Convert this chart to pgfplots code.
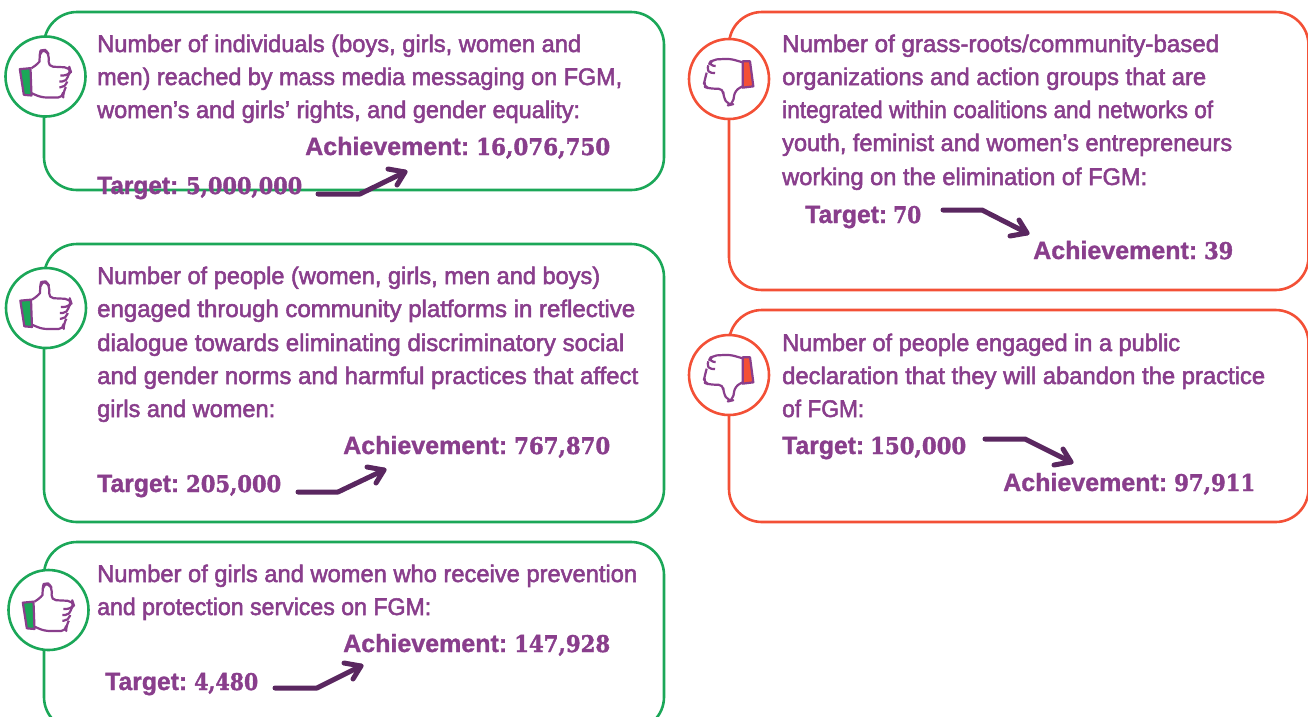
\documentclass[border=0pt]{standalone}
\usepackage{fontspec}
\usepackage{graphicx}
\usepackage{pgfplots}
\pgfplotsset{compat=1.18}
\setmainfont{Liberation Sans}
\newfontfamily\medf[FakeBold=2.2]{Liberation Sans}
\newfontfamily\boldf[FakeBold=1.2]{Liberation Sans Bold}
\newfontfamily\numf[FakeBold=1.8]{DejaVu Serif Bold}
\definecolor{txt}{RGB}{137,62,140}
\definecolor{arr}{RGB}{90,39,96}
\definecolor{grn}{RGB}{27,167,88}
\definecolor{rdd}{RGB}{243,80,54}
\newcommand\tl[4]{\node[anchor=base west,inner sep=0pt,text=txt] at (axis cs:#1,#3-1) {\resizebox{\dimexpr #2pt-#1pt\relax}{\height}{\fontsize{24}{28}\selectfont\medf #4}};}
\newcommand\bl[4]{\node[anchor=base west,inner sep=0pt,text=txt] at (axis cs:#1,#3) {\resizebox{\dimexpr #2pt-#1pt\relax}{\height}{\fontsize{25}{28}\selectfont\boldf #4}};}
\newcommand\nm[4]{\node[anchor=base west,inner sep=0pt,text=txt] at (axis cs:#1,#3) {\resizebox{\dimexpr #2pt-#1pt\relax}{\height}{\fontsize{23}{28}\selectfont\numf #4}};}
\newcommand\arrowup[6]{%
 \addplot[arr,line width=5pt,line cap=round,line join=round] coordinates {(#1,#2) (#3,#2) (#4,#5)};
 \addplot[arr,line width=5pt,line cap=round,line join=round] table[row sep=\\] {x y\\ #6};}
\newcommand\iconup[3]{\begin{scope}[shift={(#1pt,716pt-#2pt)},x=0.3333pt,y=-0.3333pt,line width=2.2pt,draw=txt,line join=round]
 \draw[fill=#3] (-77,-22) -- (-45,-25) -- (-42,57) -- (-65,55) -- cycle;
 \draw[rounded corners=5pt] (-42,-25) .. controls (-25,-35) and (-18,-45) .. (-18,-60) -- (-15,-78) -- (0,-80) -- (11,-65) -- (8,-30) -- (72,-27) -- (76,-15) -- (68,-3) -- (45,-3);
 \draw[rounded corners=5pt] (68,-3) -- (65,15) -- (42,15);
 \draw[rounded corners=5pt] (65,15) -- (61,32) -- (42,32);
 \draw[rounded corners=5pt] (61,32) -- (53,48) -- (53,63) -- (-12,63) -- (-42,50);
\end{scope}}
\newcommand\icondown[3]{\begin{scope}[shift={(#1pt,716pt-#2pt)},x=0.3333pt,y=-0.3333pt,line width=2.2pt,draw=txt,line join=round]
 \draw[fill=#3] (41,-53) -- (63,-53) -- (73,22) -- (41,26) -- cycle;
 \draw[rounded corners=5pt] (41,-50) -- (3,-61) -- (-52,-58) -- (-62,-41) -- (-40,-39);
 \draw[rounded corners=5pt] (-62,-41) -- (-67,-19) -- (-42,-18);
 \draw[rounded corners=5pt] (-67,-19) -- (-72,0) -- (-77,22) -- (-59,29) -- (-17,29) -- (-17,54) -- (-2,79) -- (11,76) -- (18,34) -- (41,22);
\end{scope}}
\begin{document}
\begin{tikzpicture}[x=1pt,y=1pt]
\useasboundingbox (0,0) rectangle (1308,716);
\clip (0,0) rectangle (1308,716);
\begin{axis}[at={(0,0)},anchor=south west,scale only axis,width=1308pt,height=716pt,
  xmin=0,xmax=1308,ymin=0,ymax=716,y dir=reverse,hide axis,clip=false]
% boxes
\draw[grn,line width=2.6pt,rounded corners=33pt] (axis cs:44,12) rectangle (axis cs:664,190);
\draw[grn,line width=2.6pt,rounded corners=33pt] (axis cs:44,244) rectangle (axis cs:664,522);
\draw[grn,line width=2.6pt,rounded corners=33pt] (axis cs:44,542) rectangle (axis cs:664,730);
\draw[rdd,line width=2.6pt,rounded corners=33pt] (axis cs:729,12) rectangle (axis cs:1308.5,290);
\draw[rdd,line width=2.6pt,rounded corners=33pt] (axis cs:729,310) rectangle (axis cs:1308.5,522);
% circles
\draw[grn,line width=2.6pt,fill=white] (axis cs:45.5,76.5) circle[radius=40pt];
\draw[grn,line width=2.6pt,fill=white] (axis cs:46,308) circle[radius=40pt];
\draw[grn,line width=2.6pt,fill=white] (axis cs:48.5,610) circle[radius=40pt];
\draw[rdd,line width=2.6pt,fill=white] (axis cs:729,79) circle[radius=40pt];
\draw[rdd,line width=2.6pt,fill=white] (axis cs:729,375) circle[radius=40pt];
% box 1
\tl{97}{581}{53}{Number of individuals (boys, girls, women and}
\tl{97}{622}{86}{men) reached by mass media messaging on FGM,}
\tl{97}{580}{119}{women’s and girls’ rights, and gender equality:}
\bl{305}{469}{155}{Achievement:}\nm{476}{610}{155}{16,076,750}
\bl{97}{178}{194}{Target:}\nm{186}{302}{194}{5,000,000}
% box 2
\tl{97}{600}{285}{Number of people (women, girls, men and boys)}
\tl{97}{635}{318}{engaged through community platforms in reflective}
\tl{97}{624}{352}{dialogue towards eliminating discriminatory social}
\tl{97}{638}{385}{and gender norms and harmful practices that affect}
\tl{97}{275}{418}{girls and women:}
\bl{343}{507}{454}{Achievement:}\nm{514}{610}{454}{767,870}
\bl{97}{179}{492}{Target:}\nm{186}{281}{492}{205,000}
% box 3
\tl{97}{637}{583}{Number of girls and women who receive prevention}
\tl{97}{431}{616}{and protection services on FGM:}
\bl{343}{507}{652}{Achievement:}\nm{514}{610}{652}{147,928}
\bl{105}{187}{690}{Target:}\nm{194}{258}{690}{4,480}
% box 4
\tl{782}{1219}{53}{Number of grass-roots/community-based}
\tl{782}{1206}{86}{organizations and action groups that are}
\tl{782}{1213}{119}{integrated within coalitions and networks of}
\tl{782}{1232}{152}{youth, feminist and women’s entrepreneurs}
\tl{782}{1147}{186}{working on the elimination of FGM:}
\bl{805}{887}{223}{Target:}\nm{893}{921}{223}{70}
\bl{1033}{1197}{259}{Achievement:}\nm{1204}{1233}{259}{39}
% box 5
\tl{782}{1180}{352}{Number of people engaged in a public}
\tl{782}{1265}{385}{declaration that they will abandon the practice}
\tl{782}{864}{418}{of FGM:}
\bl{782}{864}{454}{Target:}\nm{870}{966}{454}{150,000}
\bl{1003}{1167}{491}{Achievement:}\nm{1174}{1255}{491}{97,911}
% arrows
\arrowup{318}{194}{360}{405}{172}{388 169\\ 405 172\\ 397 185\\}
\arrowup{298}{492}{338}{384}{470}{367 467\\ 384 470\\ 376 483\\}
\arrowup{275}{688}{317}{361}{666}{344 663\\ 361 666\\ 353 679\\}
\arrowup{943}{210}{982}{1027}{233}{1019 220\\ 1027 233\\ 1010 236\\}
\arrowup{985}{439}{1025}{1071}{462}{1063 449\\ 1071 462\\ 1054 465\\}
\end{axis}
\iconup{45.5}{76.5}{grn}
\iconup{46}{308}{grn}
\iconup{48.5}{610}{grn}
\icondown{729}{79}{rdd}
\icondown{729}{375}{rdd}
\end{tikzpicture}
\end{document}
